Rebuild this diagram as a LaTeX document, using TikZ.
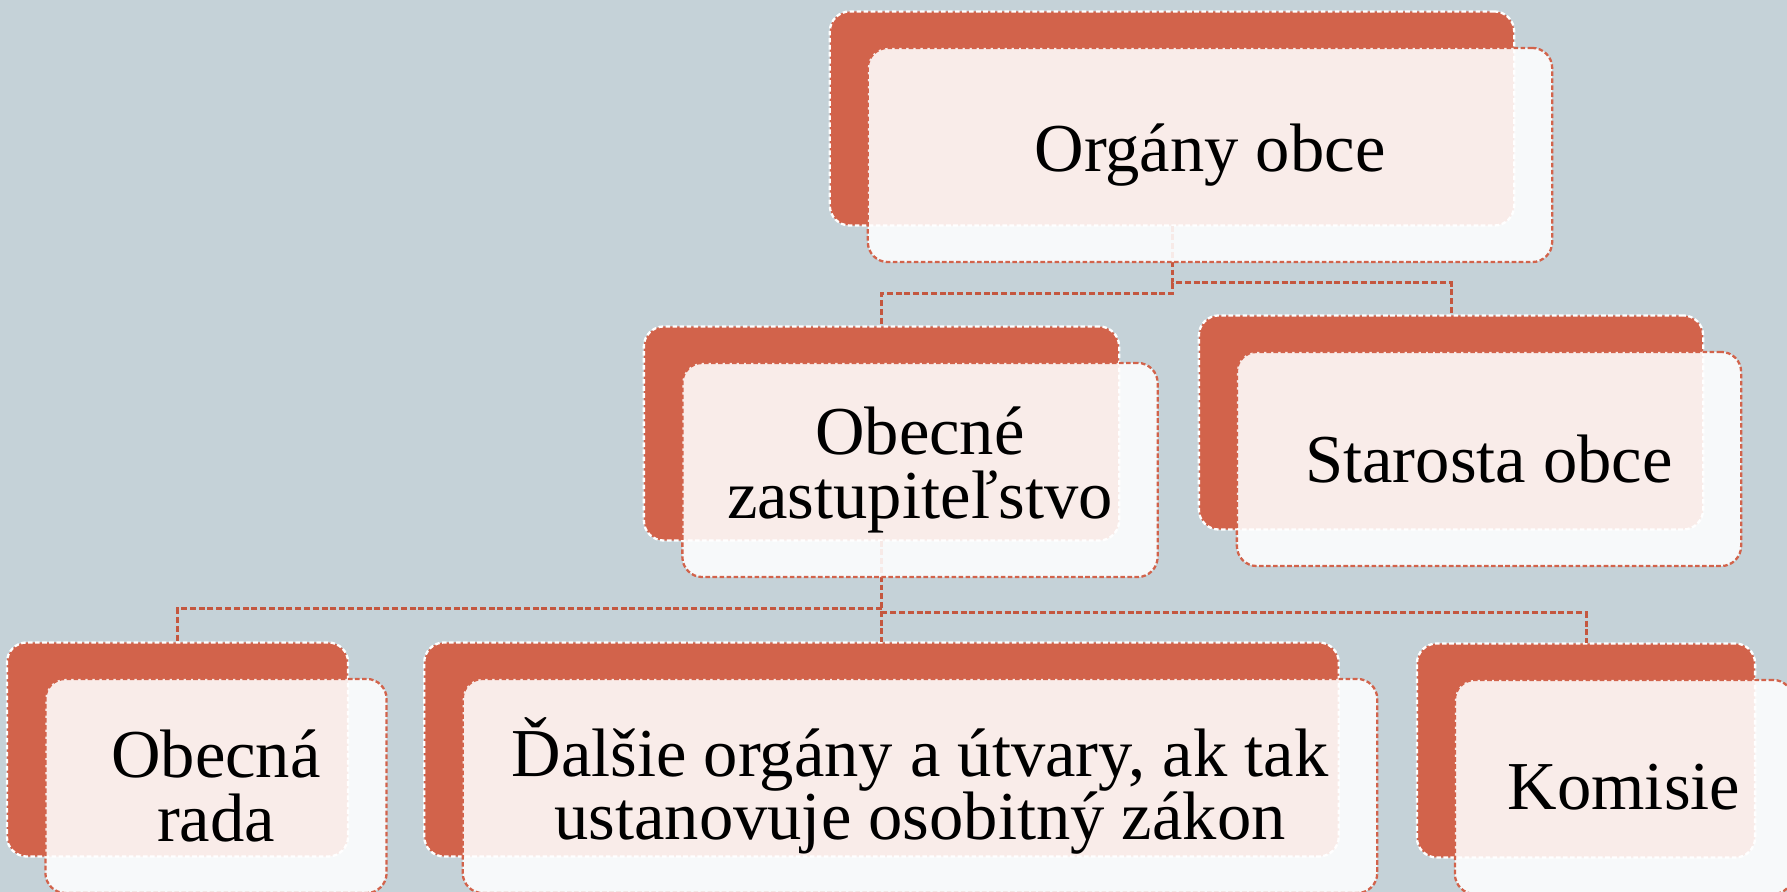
\documentclass[tikz,border=0pt]{standalone}
\usepackage{fontspec}
\setmainfont{Liberation Serif}
\definecolor{bgblue}{HTML}{C5D2D8}
\definecolor{cardorange}{HTML}{D2634B}
\definecolor{lineorange}{HTML}{C4573F}

\begin{document}
\begin{tikzpicture}
  [x=0.01cm,y=-0.01cm,
  backcard/.style={rectangle,rounded corners=0.2cm,fill=cardorange,draw=white,
                  line width=0.65pt,dash pattern=on 1.3pt off 0.7pt,
                  minimum height=2.14cm,inner sep=0,outer sep=0},
  frontcard/.style={rectangle,rounded corners=0.2cm,fill=white,fill opacity=0.88,
                  text opacity=1,draw=cardorange,line width=0.65pt,
                  dash pattern=on 1.3pt off 0.7pt,minimum height=2.14cm,
                  inner sep=0,outer sep=0,align=center,
                  font=\fontsize{19.5}{18}\selectfont},
  link/.style={draw=lineorange,line width=0.85pt,dash pattern=on 1.7pt off 0.8pt}
                  ]
  \fill[bgblue] (0,0) rectangle (1787,892);
  \useasboundingbox (0,0) rectangle (1787,892);

  % back cards
  \node[backcard,minimum width=6.84cm] (orgback) at (1172,118.5) {};
  \node[backcard,minimum width=4.75cm] (zastback) at (881.5,433.5) {};
  \node[backcard,minimum width=5.04cm] (starback) at (1451,422.5) {};
  \node[backcard,minimum width=3.41cm] (radaback) at (177.5,749.5) {};
  \node[backcard,minimum width=9.14cm] (dalback) at (881.5,749.5) {};
  \node[backcard,minimum width=3.38cm] (komback) at (1586,750.5) {};

  % connectors
  \coordinate (j1) at (1172,294);
  \coordinate (j2) at (1172,283);
  \coordinate (k1) at (881.5,609);
  \coordinate (k2) at (881.5,613);
  \draw[link] (orgback.south) -- (j2) -| (starback.north);
  \draw[link] (j2) -- (j1) -| (zastback.north);
  \draw[link] (zastback.south) -- (dalback.north);
  \draw[link] (k1) -| (radaback.north);
  \draw[link] (k2) -| (komback.north);

  % front cards
  \node[frontcard,minimum width=6.84cm] (org) at (1210,155) {Orgány obce};
  \node[frontcard,minimum width=4.75cm] (zast) at (920,470) {Obecné\\zastupiteľstvo};
  \node[frontcard,minimum width=5.04cm] (star) at (1489,459) {Starosta obce};
  \node[frontcard,minimum width=3.41cm] (rada) at (216,786) {Obecná\\rada};
  \node[frontcard,minimum width=9.14cm] (dal) at (920,786) {Ďalšie orgány a útvary, ak tak\\ustanovuje osobitný zákon};
  \node[frontcard,minimum width=3.38cm] (kom) at (1624,787) {Komisie};
\end{tikzpicture}
\end{document}
